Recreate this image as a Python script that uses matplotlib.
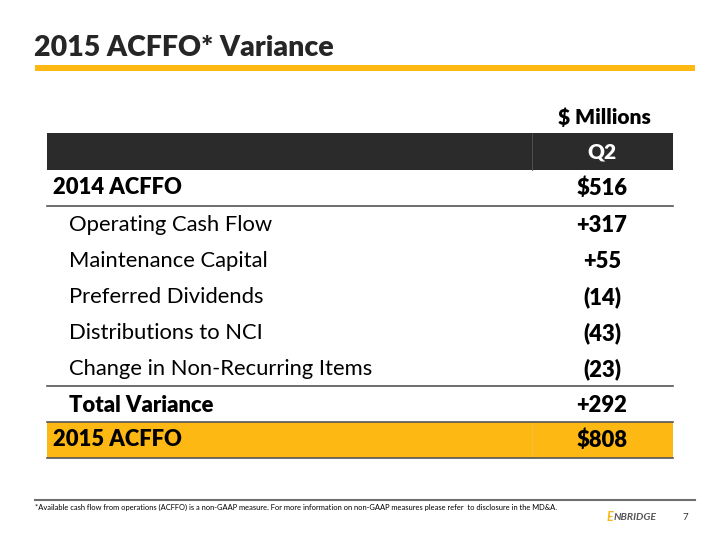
import matplotlib
matplotlib.use("Agg")
import matplotlib.pyplot as plt
from matplotlib.patches import Rectangle

plt.rcParams['font.family'] = ['Lato', 'DejaVu Sans']

title = "2015 ACFFO* Variance"
unit_label = "$ Millions"
column_header = "Q2"
start_label, start_value = "2014 ACFFO", "$516"
item_labels = ["Operating Cash Flow", "Maintenance Capital", "Preferred Dividends",
               "Distributions to NCI", "Change in Non-Recurring Items"]
item_values = ["+317", "+55", "(14)", "(43)", "(23)"]
total_label, total_value = "Total Variance", "+292"
end_label, end_value = "2015 ACFFO", "$808"
footnote = ("*Available cash flow from operations (ACFFO) is a non-GAAP measure. For more information "
            "on non-GAAP measures please refer  to disclosure in the MD&A.")
page_no = "7"

YELLOW = "#FDB813"
DARK = "#2B2B2B"
BW = 'heavy'

fig = plt.figure(figsize=(7.2, 5.4), dpi=100)
ax = fig.add_axes([0, 0, 1, 1])
ax.set_xlim(0, 720)
ax.set_ylim(540, 0)
ax.axis('off')

# title
ax.text(34, 48, title, fontsize=20.5, fontweight=BW, color='#262626', va='center', ha='left')
ax.add_patch(Rectangle((35, 65), 660, 6, color=YELLOW, lw=0))

ax.text(651, 117, unit_label, fontsize=15, fontweight=BW, color='black', va='center', ha='right')

L, R, DIV, VX = 47, 673, 532, 602
row_h = 36

# header band
ax.add_patch(Rectangle((L, 133), R - L, 37, color=DARK, lw=0))
ax.plot([DIV, DIV], [133, 170], color='#555555', lw=0.6)
ax.text(VX, 152, column_header, fontsize=15, fontweight=BW, color='white', va='center', ha='center')

fs = 15.8
# start row
y = 188
ax.text(53, y, start_label, fontsize=fs, fontweight=BW, va='center', ha='left')
ax.text(VX, y, start_value, fontsize=fs, fontweight=BW, va='center', ha='center')
ax.plot([L, R], [206, 206], color='#555555', lw=1.2)

ys = [225 + i * row_h for i in range(len(item_labels))]
for yy, lab, val in zip(ys, item_labels, item_values):
    ax.text(69, yy, lab, fontsize=fs, va='center', ha='left', color='black')
    ax.text(VX, yy, val, fontsize=fs, fontweight=BW, va='center', ha='center', color='black')

ax.plot([L, R], [386, 386], color='#555555', lw=1.2)
ax.text(69, 405, total_label, fontsize=fs, fontweight=BW, va='center', ha='left')
ax.text(VX, 405, total_value, fontsize=fs, fontweight=BW, va='center', ha='center')

ax.add_patch(Rectangle((L, 422), R - L, 36, color=YELLOW, lw=0))
ax.plot([DIV, DIV], [422, 458], color='#F2C04A', lw=0.6)
ax.plot([L, R], [422, 422], color='#555555', lw=1.2)
ax.plot([L, R], [458, 458], color='#555555', lw=1.2)
ax.text(53, 440, end_label, fontsize=fs, fontweight=BW, va='center', ha='left')
ax.text(VX, 440, end_value, fontsize=fs, fontweight=BW, va='center', ha='center')

# footer
ax.plot([35, 695], [500, 500], color='#6E6E6E', lw=1.5)
ax.text(35, 507, footnote, fontsize=5.4, va='center', ha='left', color='black')
ax.text(607, 517, "E", fontsize=9, fontweight='bold', fontstyle='italic', color='#F3B81C', va='center', ha='left')
ax.text(614, 517, "NBRIDGE", fontsize=7.5, fontweight='bold', fontstyle='italic', color='#555555', va='center', ha='left')
ax.text(682, 517, page_no, fontsize=7, color='#333333', va='center', ha='left')

fig.savefig("out.png", dpi=100)
